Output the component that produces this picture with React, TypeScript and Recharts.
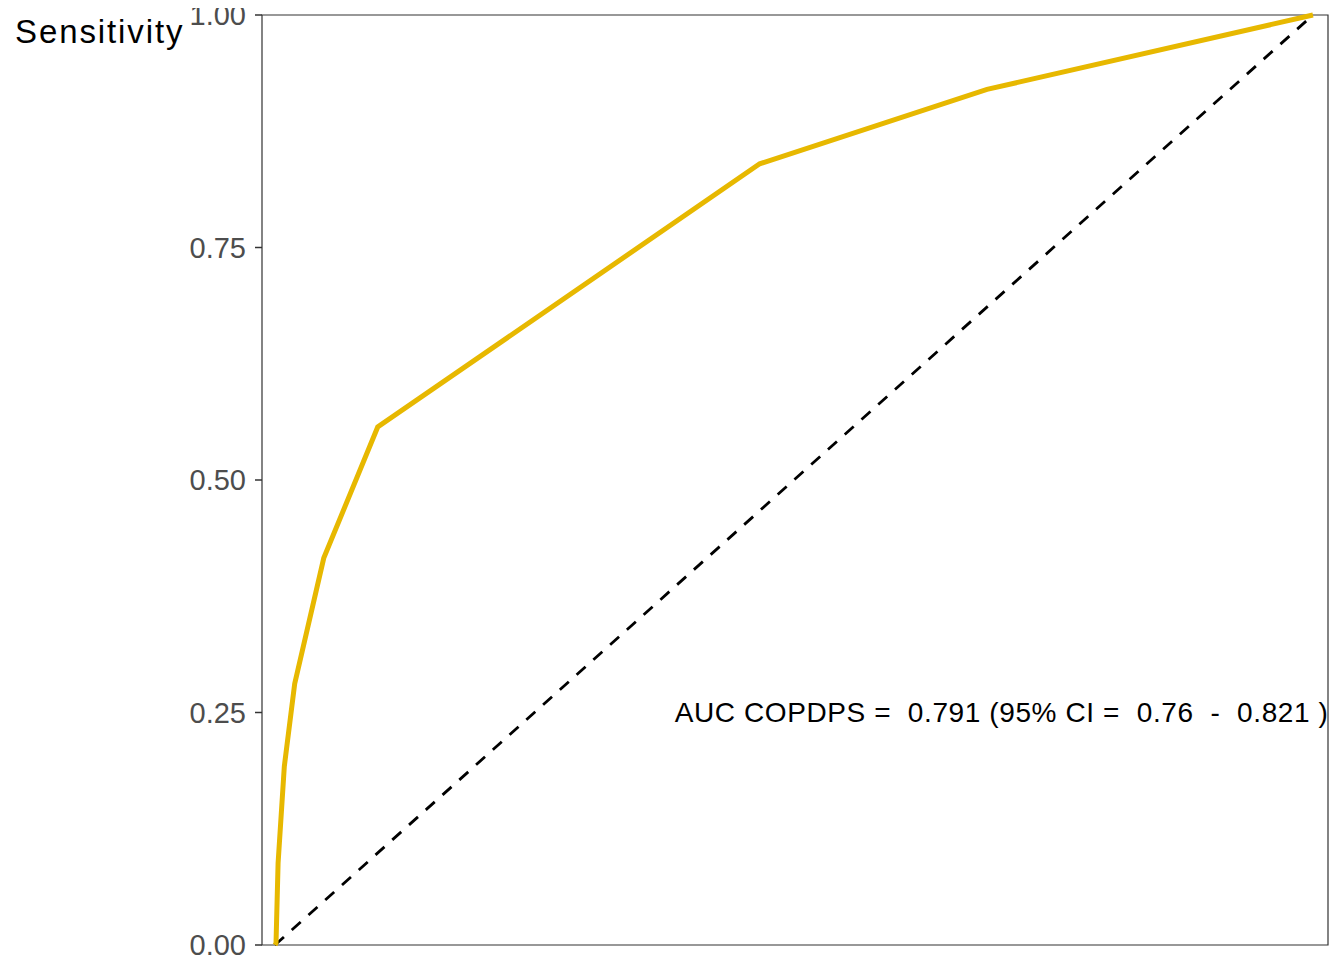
import { LineChart, Line, XAxis, YAxis, ReferenceArea, ReferenceDot } from "recharts";

// ROC curve (1 - specificity, sensitivity)
const rocFpr = [0, 0.001, 0.003, 0.009, 0.019, 0.047, 0.099, 0.467, 0.686, 1];
const rocTpr = [0, 0.002, 0.088, 0.192, 0.281, 0.416, 0.557, 0.84, 0.92, 1];
const diagonal = [0, 1];
const yTicks = [0, 0.25, 0.5, 0.75, 1];
const aucLabel = "AUC COPDPS =  0.791 (95% CI =  0.76  -  0.821 )";

const rocData = rocFpr.map((x, i) => ({ x, y: rocTpr[i] }));
const diagData = diagonal.map((v) => ({ x: v, y: v }));

const X_MIN = -0.0125;
const X_MAX = 1.0145;
const FONT = "'Liberation Sans', Arial, Helvetica, sans-serif";

export default function App() {
  return (
    <div style={{ width: 1336, height: 960, marginTop: -8, fontFamily: FONT }}>
      <LineChart
        width={1336}
        height={960}
        margin={{ top: 15, right: 16, bottom: 15, left: 0 }}
      >
        <XAxis type="number" dataKey="x" domain={[X_MIN, X_MAX]} hide />
        <YAxis
          type="number"
          dataKey="y"
          domain={[0, 1]}
          ticks={yTicks}
          interval={0}
          width={254}
          axisLine={false}
          tickLine={{ stroke: "#333333", strokeWidth: 1.5 }}
          tickSize={7}
          tickMargin={9}
          tick={{ fill: "#4d4d4d", fontSize: 29, fontFamily: FONT }}
          tickFormatter={(v: number) => v.toFixed(2)}
          label={({ viewBox }: any) => (
            <text
              x={viewBox.x + 7}
              y={viewBox.y + 16}
              fill="#000"
              fontSize={33}
              letterSpacing={1.9}
              fontFamily={FONT}
              dominantBaseline="central"
            >
              Sensitivity
            </text>
          )}
        />
        <ReferenceArea
          x1={X_MIN}
          x2={X_MAX}
          y1={0}
          y2={1}
          fill="none"
          stroke="#333333"
          strokeWidth={1.2}
          ifOverflow="visible"
        />
        <Line
          data={diagData}
          dataKey="y"
          stroke="#000"
          strokeWidth={2.8}
          strokeDasharray="12 10.5"
          dot={false}
          isAnimationActive={false}
        />
        <Line
          data={rocData}
          dataKey="y"
          stroke="#E7B800"
          strokeWidth={5}
          strokeLinejoin="miter"
          dot={false}
          isAnimationActive={false}
        />
        <ReferenceDot
          x={0.7}
          y={0.25}
          r={0}
          ifOverflow="visible"
          shape={(p: any) => (
            <text
              x={p.cx}
              y={p.cy}
              textAnchor="middle"
              dominantBaseline="central"
              fill="#000"
              fontSize={28}
              letterSpacing={0.6}
              fontFamily={FONT}
              style={{ whiteSpace: "pre" }}
            >
              {aucLabel}
            </text>
          )}
        />
      </LineChart>
    </div>
  );
}
